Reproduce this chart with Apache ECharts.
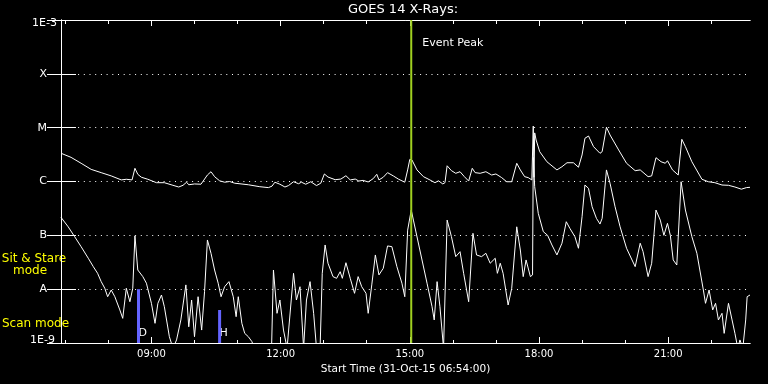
<!DOCTYPE html>
<html><head><meta charset="utf-8">
<script src="https://cdn.jsdelivr.net/npm/echarts@6/dist/echarts.min.js"></script>
<style>html,body{margin:0;padding:0;background:#000}#c{width:768px;height:384px}</style>
</head><body><div id="c"></div>
<script>
// ---- data (time = minutes elapsed since start 31-Oct-15 06:54:00; flux in W/m^2) ----
const titleText = 'GOES 14 X-Rays:';
const axisNameText = 'Start Time (31-Oct-15 06:54:00)';
const startMinuteOfDay = 6 * 60 + 54;
const xMaxMinutes = 960;
const majorTicks = [126, 306, 486, 666, 846];            // 09:00 12:00 15:00 18:00 21:00
const minorTicks = [6, 66, 186, 246, 366, 426, 546, 606, 726, 786, 906];
const yTickLabels = ['1E-9', 'A', 'B', 'C', 'M', 'X', '1E-3'];
const yMin = 1e-9, yMax = 1e-3;

const longChannel = [
  [0,3.35e-6],[14,2.81e-6],[28,2.18e-6],[42,1.68e-6],[56,1.46e-6],[70,1.27e-6],[84,1.07e-6],[91,1.10e-6],
  [99,1.07e-6],[103,1.76e-6],[107,1.36e-6],[112,1.20e-6],[121,1.10e-6],[133,0.95e-6],[144,0.95e-6],[156,0.85e-6],
  [164,0.79e-6],[170,0.85e-6],[175,0.97e-6],[178,0.87e-6],[186,0.90e-6],[195,0.89e-6],[204,1.32e-6],[209,1.52e-6],
  [214,1.23e-6],[221,1.03e-6],[228,0.97e-6],[235,1.00e-6],[242,0.93e-6],[261,0.87e-6],[277,0.80e-6],[289,0.77e-6],
  [294,0.82e-6],[298,0.97e-6],[305,0.89e-6],[312,0.79e-6],[317,0.84e-6],[324,0.99e-6],[331,0.91e-6],[335,0.97e-6],
  [341,0.89e-6],[348,0.99e-6],[356,0.84e-6],[362,0.93e-6],[367,1.38e-6],[372,1.21e-6],[382,1.08e-6],[390,1.11e-6],
  [397,1.28e-6],[403,1.07e-6],[410,1.11e-6],[415,1.02e-6],[421,1.05e-6],[428,0.98e-6],[435,1.13e-6],[440,1.36e-6],
  [443,1.07e-6],[449,1.20e-6],[455,1.46e-6],[463,1.27e-6],[470,1.11e-6],[479,0.97e-6],[483,1.64e-6],[486,2.58e-6],
  [489,2.51e-6],[496,1.64e-6],[505,1.23e-6],[514,1.07e-6],[521,0.95e-6],[526,1.03e-6],[532,0.90e-6],[535,0.95e-6],
  [538,1.96e-6],[544,1.59e-6],[550,1.42e-6],[556,1.52e-6],[562,1.23e-6],[568,1.02e-6],[573,1.76e-6],[577,1.46e-6],
  [584,1.42e-6],[592,1.52e-6],[600,1.32e-6],[606,1.38e-6],[614,1.18e-6],[621,0.99e-6],[628,0.99e-6],[635,2.18e-6],
  [640,1.64e-6],[646,1.23e-6],[651,1.18e-6],[656,1.07e-6],[658,1.07e-5],[659,1.2e-6],[660,8.0e-6],[662,5.9e-6],
  [667,3.58e-6],[677,2.33e-6],[691,1.64e-6],[698,1.88e-6],[705,2.23e-6],[714,2.23e-6],[721,1.84e-6],[726,3.11e-6],
  [730,6.35e-6],[735,7.0e-6],[742,4.44e-6],[751,3.34e-6],[754,3.58e-6],[760,1.02e-5],[765,7.3e-6],[777,3.85e-6],
  [788,2.18e-6],[800,1.59e-6],[807,1.64e-6],[818,1.23e-6],[823,1.27e-6],[829,2.77e-6],[836,2.33e-6],[842,2.18e-6],
  [845,2.43e-6],[852,1.64e-6],[860,1.32e-6],[865,6.08e-6],[870,4.44e-6],[879,2.33e-6],[893,1.10e-6],[902,0.99e-6],
  [911,0.95e-6],[921,0.86e-6],[930,0.85e-6],[939,0.79e-6],[948,0.72e-6],[955,0.77e-6],[960,0.78e-6]
];

const shortChannel = [
  [0,2.16e-7],[10,1.44e-7],[19,9.45e-8],[28,6.16e-8],[38,3.75e-8],[45,2.62e-8],[51,1.97e-8],[56,1.38e-8],
  [61,1.04e-8],[65,7.24e-9],[70,9.65e-9],[75,7.24e-9],[82,4.11e-9],[86,2.87e-9],[91,1.04e-8],[96,5.84e-9],
  [100,1.04e-8],[103,9.8e-8],[107,2.27e-8],[114,1.71e-8],[119,1.29e-8],[126,5.46e-9],[131,2.32e-9],[135,5.46e-9],
  [140,7.79e-9],[144,4.72e-9],[151,1.31e-9],[156,8e-10],[161,1.14e-9],[167,2.68e-9],[174,1.2e-8],[178,2.0e-9],
  [182,6.29e-9],[186,1.31e-9],[191,7.24e-9],[196,1.74e-9],[200,8.97e-9],[204,8.2e-8],[209,4.64e-8],[214,2.27e-8],
  [219,1.29e-8],[223,7.24e-9],[228,1.11e-8],[234,1.38e-8],[240,7.24e-9],[244,3.08e-9],[247,7.24e-9],[252,2.32e-9],
  [256,1.51e-9],[261,1.31e-9],[266,1.06e-9],[275,5e-10],[288,5e-10],[293,5e-10],[296,2.27e-8],[301,3.56e-9],
  [305,6.29e-9],[310,1.74e-9],[315,8e-10],[324,1.97e-8],[328,6.29e-9],[333,1.11e-8],[338,8e-10],[342,6.29e-9],
  [347,1.38e-8],[352,3.56e-9],[356,8e-10],[361,8e-10],[364,1.97e-8],[368,6.62e-8],[372,3.03e-8],[379,1.71e-8],
  [384,1.59e-8],[389,2.11e-8],[392,1.59e-8],[397,3.1e-8],[403,1.59e-8],[409,8.37e-9],[414,1.71e-8],[419,1.11e-8],
  [425,8.37e-9],[428,3.56e-9],[433,1.2e-8],[438,4.32e-8],[443,1.84e-8],[449,2.44e-8],[455,6.35e-8],[461,6.16e-8],
  [468,2.62e-8],[475,1.29e-8],[479,7.24e-9],[483,1.25e-7],[488,2.95e-7],[491,1.92e-7],[500,5.34e-8],[510,1.29e-8],
  [517,4.72e-9],[520,2.68e-9],[524,1.38e-8],[528,4.72e-9],[533,8e-10],[535,8e-10],[538,1.92e-7],[544,9.45e-8],
  [550,4.02e-8],[556,4.97e-8],[561,1.97e-8],[568,5.84e-9],[574,1.09e-7],[579,4.32e-8],[586,4.02e-8],[592,4.64e-8],
  [598,3.03e-8],[605,3.75e-8],[608,1.97e-8],[612,3.03e-8],[616,1.97e-8],[623,5.08e-9],[628,1.04e-8],[635,1.44e-7],
  [640,5.34e-8],[644,1.71e-8],[648,3.49e-8],[654,1.71e-8],[657,1.84e-8],[658,2.8e-6],[660,8.0e-7],[665,2.56e-7],
  [672,1.17e-7],[678,1.0e-7],[684,6.62e-8],[691,4.32e-8],[698,7.13e-8],[704,1.79e-7],[709,1.35e-7],[716,9.45e-8],
  [721,5.75e-8],[726,2.22e-7],[730,8.6e-7],[735,7.46e-7],[740,3.4e-7],[746,2.07e-7],[751,1.62e-7],[754,2.07e-7],
  [760,1.64e-6],[765,9.24e-7],[772,3.4e-7],[779,1.44e-7],[788,5.75e-8],[800,2.62e-8],[807,7.13e-8],[811,4.97e-8],
  [818,1.71e-8],[823,3.03e-8],[829,2.95e-7],[835,1.92e-7],[840,1.0e-7],[845,1.67e-7],[849,1.0e-7],[853,3.49e-8],
  [858,2.81e-8],[864,9.9e-7],[870,2.95e-7],[879,9.45e-8],[886,4.64e-8],[895,9.65e-9],[898,5.46e-9],[903,9.65e-9],
  [908,4.11e-9],[912,5.46e-9],[916,2.68e-9],[921,3.56e-9],[924,1.51e-9],[930,5.46e-9],[935,2.68e-9],[939,1.51e-9],
  [943,8e-10],[946,1.14e-9],[950,8e-10],[954,2.68e-9],[956,7.24e-9],[960,7.79e-9]
];

const modeBars = [[108, 1e-8], [221, 4.1e-9]];
const modeBarLabels = ['D', 'H'];
const eventPeakTimes = [488];
const eventPeakLabel = 'Event Peak';
const modeTexts = ['Sit & Stare', 'mode', 'Scan mode'];

// ---- chart ----
const FONT = 'DejaVu Sans';
const WHITE = '#ffffff';
const chart = echarts.init(document.getElementById('c'), null, {renderer: 'canvas'});

function fmtTime(m) {
  const t = startMinuteOfDay + m;
  const hh = Math.floor(t / 60) % 24, mm = Math.round(t % 60);
  return String(hh).padStart(2, '0') + ':' + String(mm).padStart(2, '0');
}

function xAxisDef(position, ticks, len, withLabels) {
  return {
    type: 'value', position: position, min: 0, max: xMaxMinutes,
    axisLine: {show: true, lineStyle: {color: WHITE, width: 1}},
    axisTick: {show: true, inside: true, length: len, customValues: ticks, lineStyle: {color: WHITE, width: 1}},
    axisLabel: withLabels ? {show: true, customValues: ticks, formatter: fmtTime, color: WHITE,
                fontFamily: FONT, fontSize: 10, margin: 6} : {show: false},
    splitLine: {show: false},
    name: withLabels ? axisNameText : '',
    nameLocation: 'middle', nameGap: 20,
    nameTextStyle: {color: WHITE, fontFamily: FONT, fontSize: 10.5}
  };
}

const richBase = {color: WHITE, fontFamily: FONT, fontSize: 11};

chart.setOption({
  animation: false,
  backgroundColor: '#000000',
  grid: {left: 61, right: 18, top: 20, bottom: 41, containLabel: false},
  xAxis: [
    xAxisDef('bottom', majorTicks, 6, true),
    xAxisDef('bottom', minorTicks, 3, false),
    xAxisDef('top', majorTicks, 6, false),
    xAxisDef('top', minorTicks, 4, false)
  ],
  yAxis: [
    {
      type: 'log', logBase: 10, min: yMin, max: yMax, position: 'left', splitNumber: 6,
      axisLine: {show: true, lineStyle: {color: WHITE}},
      axisTick: {show: true, inside: true, length: 15, lineStyle: {color: WHITE}},
      axisLabel: {
        show: true, margin: 4, showMinLabel: true, showMaxLabel: true,
        formatter: function (v) {
          const i = Math.round(Math.log10(v)) + 9;
          const s = yTickLabels[i];
          if (i === yTickLabels.length - 1) return '{t|' + s + '}';
          if (i === 0) return '{b|' + s + '}';
          return '{l|' + s + '}';
        },
        rich: {
          t: Object.assign({padding: [6, 0, 0, 0]}, richBase),
          b: Object.assign({padding: [0, 2, 6, 0]}, richBase),
          l: Object.assign({padding: [0, 10, 0, 0]}, richBase)
        }
      },
      splitLine: {show: true, lineStyle: {color: WHITE, type: [1, 4.7], width: 1}}
    },
    {
      type: 'log', logBase: 10, min: yMin, max: yMax, position: 'right', splitNumber: 6,
      axisLine: {show: true, lineStyle: {color: WHITE}},
      axisTick: {show: true, inside: true, length: 14, lineStyle: {color: WHITE}},
      axisLabel: {show: false},
      splitLine: {show: false}
    }
  ],
  graphic: [
    {type: 'text', x: 403, y: 10, style: {text: titleText, fill: WHITE, font: '13px "' + FONT + '"', align: 'center', verticalAlign: 'middle'}},
    {type: 'text', x: 34, y: 259, style: {text: modeTexts[0], fill: '#ffff00', font: '12px "' + FONT + '"', align: 'center', verticalAlign: 'middle'}},
    {type: 'text', x: 13, y: 271, style: {text: modeTexts[1], fill: '#ffff00', font: '12px "' + FONT + '"', align: 'left', verticalAlign: 'middle'}},
    {type: 'text', x: 2, y: 324, style: {text: modeTexts[2], fill: '#ffff00', font: '12px "' + FONT + '"', align: 'left', verticalAlign: 'middle'}}
  ],
  series: [
    {
      type: 'line', name: 'long', data: longChannel, xAxisIndex: 0, yAxisIndex: 0,
      showSymbol: false, symbol: 'none', clip: true, z: 3,
      lineStyle: {color: WHITE, width: 1}
    },
    {
      type: 'line', name: 'short', data: shortChannel, xAxisIndex: 0, yAxisIndex: 0,
      showSymbol: false, symbol: 'none', clip: true, z: 3,
      lineStyle: {color: WHITE, width: 1}
    },
    {
      type: 'custom', name: 'modes', coordinateSystem: 'cartesian2d', xAxisIndex: 0, yAxisIndex: 0, z: 4,
      data: modeBars,
      renderItem: function (params, api) {
        const top = api.coord([api.value(0), api.value(1)]);
        const base = api.coord([api.value(0), yMin]);
        return {type: 'group', children: [
          {type: 'text', x: top[0], y: base[1] - 10,
           style: {text: modeBarLabels[params.dataIndex], fill: WHITE, font: '11px "' + FONT + '"', align: 'left', verticalAlign: 'middle'}},
          {type: 'rect', shape: {x: top[0] - 1.5, y: top[1], width: 3, height: base[1] - top[1]},
           style: {fill: '#6464ff'}}
        ]};
      }
    },
    {
      type: 'custom', name: 'event', coordinateSystem: 'cartesian2d', xAxisIndex: 0, yAxisIndex: 0, z: 5,
      data: eventPeakTimes.map(function (t) { return [t, 1e-6]; }),
      renderItem: function (params, api) {
        const x = api.value(0);
        const p1 = api.coord([x, yMax]);
        const p2 = api.coord([x, yMin]);
        return {type: 'group', children: [
          {type: 'line', shape: {x1: p1[0], y1: p1[1], x2: p2[0], y2: p2[1]}, style: {stroke: '#a0d020', lineWidth: 2}},
          {type: 'text', x: p1[0] + 11, y: p1[1] + 23,
           style: {text: eventPeakLabel, fill: WHITE, font: '11px "' + FONT + '"', align: 'left', verticalAlign: 'middle'}}
        ]};
      }
    }
  ]
});
</script>
</body></html>
